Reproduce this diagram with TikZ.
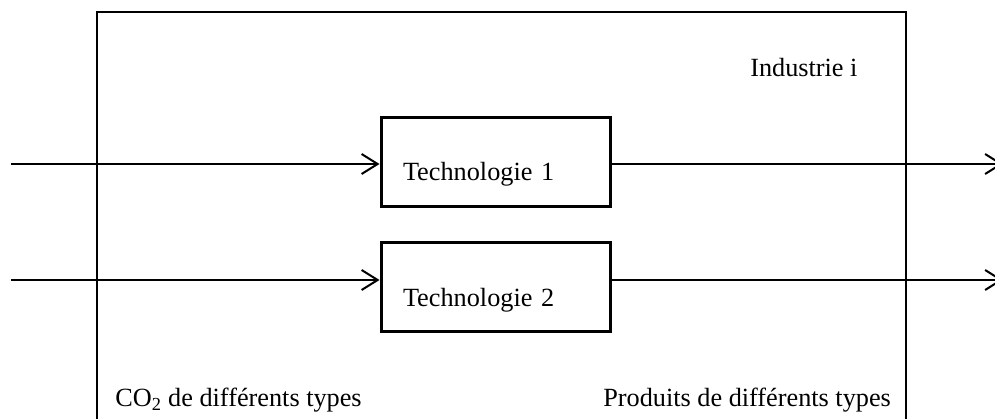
\documentclass[tikz,border=0pt]{standalone}
\usepackage{fontspec}
\setmainfont{Liberation Serif}
\usetikzlibrary{positioning,arrows.meta}

\tikzset{
  techbox/.style={draw, line width=2.25pt, minimum width=171.75pt, minimum height=66.75pt,
    inner xsep=16.5pt, text width=138.75pt, align=left, text height=28.5pt, text depth=0pt},
  flow/.style={line width=1.5pt, -{Straight Barb[length=12pt,width=15pt,line width=1.5pt]}},
  lbl/.style={anchor=base west, inner sep=0pt},
}

\begin{document}
\begin{tikzpicture}[x=0.75pt, y=0.75pt, font=\fontsize{19.7}{23}\selectfont]
      % Canvas of the figure
      \useasboundingbox (0,0) rectangle (995,418);

      % Frame of the industry (open below)
      \coordinate (frameSW) at (96.5,-5);
      \coordinate (frameNE) at (905.5,406);
      \draw[line width=1.5pt] (frameSW) |- (frameNE) -- (frameNE |- frameSW);

      % The two technologies
      \node[techbox] (tech1) at (495.5,256) {Technologie 1};
      \node[techbox, below=24.75pt of tech1] (tech2) {Technologie 2};

      % Ends of the flows
      \coordinate (in1) at (11,254);  \coordinate (out1) at (1003,254);
      \coordinate (in2) at (11,138);  \coordinate (out2) at (1003,138);

      \draw[flow] (in1) -- (in1 -| tech1.west);
      \draw[flow] (in2) -- (in2 -| tech2.west);
      \draw[flow] (tech1.east |- out1) -- (out1);
      \draw[flow] (tech2.east |- out2) -- (out2);

      % Labels
      \node[lbl] (industrie) at (750,341) {Industrie i};
      \node[lbl] (co2) at (115,11.5) {CO\textsubscript{2} de différents types};
      \node[lbl] (produits) at (603,12) {Produits de différents types};
  \end{tikzpicture}
\end{document}
